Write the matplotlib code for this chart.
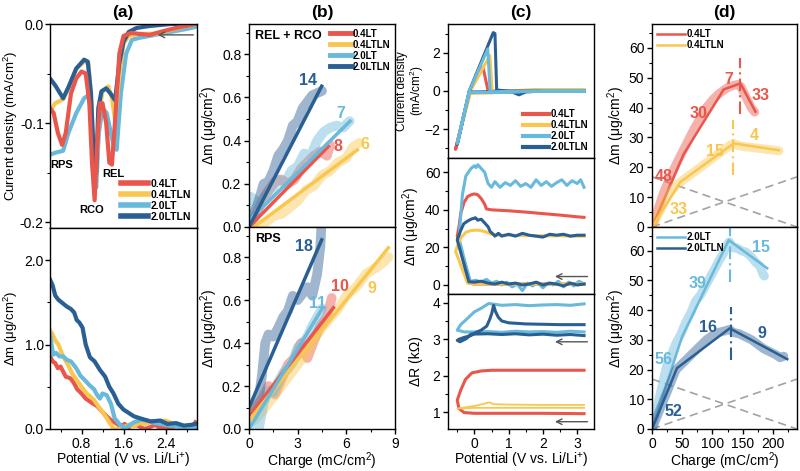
import matplotlib
matplotlib.use('Agg')
import matplotlib.pyplot as plt
from matplotlib.ticker import MultipleLocator

plt.rcParams['font.family'] = ['Liberation Sans', 'DejaVu Sans']
plt.rcParams['mathtext.fontset'] = 'custom'
plt.rcParams['mathtext.rm'] = 'Liberation Sans'
plt.rcParams['mathtext.default'] = 'regular'
plt.rcParams['font.size'] = 10

RED = '#E9564B'
YEL = '#F9C74F'
LBLUE = '#68B9DB'
DBLUE = '#2A5F94'
GREY = '#8c8c8c'
names = ['0.4LT', '0.4LTLN', '2.0LT', '2.0LTLN']

# ---- (a) top: current density during cathodic sweep
a_cv_v_lt04 = [0.2, 0.27, 0.35, 0.43, 0.5, 0.6, 0.7, 0.8, 0.88, 0.95, 1.0, 1.05, 1.1, 1.15, 1.2, 1.27,
               1.33, 1.38, 1.45, 1.52, 1.6, 1.75, 1.9, 2.1, 2.3, 2.6, 2.97]
a_cv_j_lt04 = [-0.085, -0.09, -0.11, -0.122, -0.11, -0.07, -0.055, -0.048, -0.05, -0.08, -0.14, -0.178,
               -0.12, -0.08, -0.08, -0.10, -0.14, -0.142, -0.09, -0.03, -0.012, -0.009, -0.010, -0.011,
               -0.008, -0.004, 0.0]
a_cv_v_lt04ln = [0.2, 0.3, 0.45, 0.55, 0.7, 0.85, 0.93, 0.98, 1.03, 1.08, 1.13, 1.2, 1.31, 1.38, 1.44,
                 1.52, 1.6, 1.7, 1.9, 2.2, 2.5, 2.8, 2.97]
a_cv_j_lt04ln = [-0.088, -0.08, -0.076, -0.065, -0.045, -0.038, -0.04, -0.07, -0.13, -0.15, -0.09, -0.068,
                 -0.063, -0.075, -0.097, -0.05, -0.02, -0.012, -0.01, -0.01, -0.006, -0.002, 0.0]
a_cv_v_lt20 = [0.2, 0.3, 0.45, 0.55, 0.7, 0.85, 0.93, 0.98, 1.03, 1.08, 1.13, 1.2, 1.28, 1.36, 1.42, 1.47,
               1.55, 1.65, 1.76, 1.9, 2.2, 2.5, 2.8, 2.97]
a_cv_j_lt20 = [-0.132, -0.13, -0.128, -0.11, -0.09, -0.075, -0.072, -0.09, -0.14, -0.165, -0.11, -0.085,
               -0.09, -0.11, -0.125, -0.127, -0.07, -0.03, -0.016, -0.014, -0.011, -0.008, -0.005, -0.003]
a_cv_v_lt20ln = [0.2, 0.3, 0.45, 0.55, 0.7, 0.85, 0.92, 0.98, 1.03, 1.08, 1.12, 1.18, 1.27, 1.35, 1.44,
                 1.52, 1.6, 1.7, 1.85, 2.1, 2.5, 2.97]
a_cv_j_lt20ln = [-0.055, -0.062, -0.075, -0.064, -0.045, -0.036, -0.038, -0.07, -0.13, -0.15, -0.085,
                 -0.068, -0.065, -0.07, -0.077, -0.04, -0.018, -0.008, -0.004, -0.002, 0.0, 0.0]

# ---- (a) bottom: mass change
a_m_v_lt04 = [0.2, 0.25, 0.3, 0.35, 0.4, 0.45, 0.5, 0.59, 0.65, 0.72, 0.8, 0.88, 0.95, 1.02, 1.1, 1.2, 1.28,
              1.35, 1.45, 1.55, 1.62, 1.7, 1.8, 1.9, 2.0, 2.1, 2.2, 2.3, 2.4, 2.5, 2.6, 2.7, 2.8, 2.9, 2.97]
a_m_lt04 = [0.86, 0.8, 0.78, 0.72, 0.74, 0.68, 0.62, 0.6, 0.55, 0.47, 0.42, 0.36, 0.33, 0.3, 0.27, 0.2, 0.15,
            0.11, 0.07, 0.03, 0.06, 0.02, 0.06, 0.03, 0.0, 0.02, 0.05, 0.01, 0.03, 0.0, 0.04, 0.01, 0.03,
            0.02, 0.08]
a_m_v_lt04ln = [0.2, 0.25, 0.3, 0.36, 0.45, 0.55, 0.63, 0.71, 0.8, 0.9, 1.03, 1.12, 1.2, 1.28, 1.35, 1.41,
                1.5, 1.6, 1.7, 1.8, 1.9, 2.0, 2.2, 2.4, 2.6, 2.8, 2.97]
a_m_lt04ln = [1.17, 1.12, 1.05, 1.0, 0.86, 0.75, 0.65, 0.58, 0.5, 0.42, 0.35, 0.27, 0.2, 0.13, 0.06, 0.0,
              0.0, 0.02, 0.05, 0.03, 0.07, 0.06, 0.09, 0.1, 0.05, 0.02, 0.03]
a_m_v_lt20 = [0.2, 0.23, 0.26, 0.32, 0.38, 0.45, 0.52, 0.6, 0.7, 0.78, 0.86, 0.95, 1.04, 1.1, 1.15, 1.2,
              1.28, 1.36, 1.43, 1.52, 1.62, 1.7, 1.8, 1.94, 2.05, 2.2, 2.4, 2.6, 2.8, 2.97]
a_m_lt20 = [1.12, 1.0, 0.88, 0.9, 0.86, 0.86, 0.82, 0.8, 0.72, 0.63, 0.58, 0.52, 0.47, 0.4, 0.36, 0.42,
            0.4, 0.3, 0.13, 0.06, 0.01, 0.04, 0.08, 0.11, 0.1, 0.07, 0.05, 0.03, 0.02, 0.01]
a_m_v_lt20ln = [0.2, 0.25, 0.3, 0.36, 0.42, 0.52, 0.6, 0.66, 0.71, 0.76, 0.82, 0.88, 0.96, 1.05, 1.15, 1.25,
                1.33, 1.41, 1.5, 1.6, 1.7, 1.8, 1.95, 2.12, 2.3, 2.44, 2.6, 2.75, 2.9, 2.97]
a_m_lt20ln = [1.77, 1.7, 1.58, 1.53, 1.5, 1.45, 1.42, 1.38, 1.29, 1.26, 1.2, 1.0, 0.85, 0.8, 0.7, 0.62,
              0.5, 0.42, 0.3, 0.23, 0.19, 0.15, 0.12, 0.09, 0.1, 0.06, 0.07, 0.04, 0.05, 0.06]

# ---- (b) mass vs charge, REL + RCO
b1_q_lt04 = [0.0, 0.4, 0.8, 1.2, 1.6, 2.0, 2.4, 2.8, 3.2, 3.6, 4.0, 4.4, 4.8, 5.0]
b1_m_lt04 = [0.0, 0.05, 0.12, 0.17, 0.21, 0.22, 0.20, 0.22, 0.27, 0.30, 0.33, 0.35, 0.33, 0.38]
b1_q_lt04ln = [0.6, 1.0, 1.5, 2.0, 2.5, 3.0, 3.5, 4.0, 4.5, 5.0, 5.5, 6.0, 6.4, 6.8]
b1_m_lt04ln = [0.0, 0.02, 0.05, 0.06, 0.09, 0.12, 0.17, 0.19, 0.24, 0.26, 0.30, 0.32, 0.37, 0.39]
b1_q_lt20 = [0.0, 0.1, 0.3, 0.6, 1.0, 1.4, 1.8, 2.2, 2.6, 3.0, 3.4, 3.8, 4.2, 4.6, 5.0, 5.4, 5.8, 6.2]
b1_m_lt20 = [0.05, 0.14, 0.13, 0.10, 0.14, 0.17, 0.22, 0.20, 0.26, 0.28, 0.34, 0.33, 0.40, 0.44, 0.46, 0.47,
             0.46, 0.49]
b1_q_lt20ln = [0.0, 0.3, 0.6, 0.9, 1.2, 1.5, 1.8, 2.1, 2.4, 2.7, 3.0, 3.3, 3.6, 3.9, 4.2, 4.5]
b1_m_lt20ln = [0.0, 0.06, 0.12, 0.20, 0.21, 0.26, 0.33, 0.36, 0.40, 0.47, 0.49, 0.55, 0.58, 0.61, 0.62, 0.63]
b1_fit_q = [[0.0, 4.89], [0.3, 6.68], [0.0, 6.23], [0.0, 4.48]]
b1_fit_m = [[0.0, 0.373], [0.0, 0.357], [0.03, 0.49], [0.0, 0.652]]
b1_slopes = ['8', '6', '7', '14']
b1_label_q = [5.5, 7.15, 5.65, 3.65]
b1_label_m = [0.375, 0.38, 0.525, 0.68]

# ---- (b) mass vs charge, RPS
b2_q_lt04 = [0.0, 0.4, 0.8, 1.2, 1.6, 2.0, 2.4, 2.8, 3.2, 3.6, 4.0, 4.4, 4.8, 5.1]
b2_m_lt04 = [0.06, 0.10, 0.14, 0.20, 0.16, 0.23, 0.30, 0.33, 0.40, 0.33, 0.41, 0.48, 0.52, 0.61]
b2_q_lt04ln = [0.3, 0.8, 1.5, 2.2, 3.0, 3.6, 4.2, 4.8, 5.4, 6.0, 6.6, 7.2, 7.8, 8.2, 8.6]
b2_m_lt04ln = [0.04, 0.08, 0.15, 0.22, 0.30, 0.36, 0.44, 0.50, 0.55, 0.62, 0.66, 0.72, 0.75, 0.77, 0.80]
b2_q_lt20 = [0.3, 0.6, 0.9, 1.2, 1.5, 1.8, 2.1, 2.4, 2.7, 3.0, 3.3, 3.6, 3.9, 4.2, 4.5]
b2_m_lt20 = [0.02, 0.0, 0.12, 0.18, 0.17, 0.22, 0.26, 0.28, 0.31, 0.38, 0.40, 0.43, 0.48, 0.52, 0.56]
b2_q_lt20ln = [0.3, 0.6, 0.8, 1.0, 1.2, 1.5, 1.8, 2.1, 2.4, 2.7, 3.0, 3.3, 3.6, 3.9, 4.2, 4.4, 4.5]
b2_m_lt20ln = [0.10, 0.14, 0.25, 0.40, 0.44, 0.43, 0.47, 0.52, 0.55, 0.62, 0.60, 0.63, 0.66, 0.62, 0.72,
               0.85, 1.0]
b2_fit_q = [[0.0, 5.2], [0.0, 8.59], [0.0, 4.54], [0.0, 4.48]]
b2_fit_m = [[0.06, 0.564], [0.04, 0.843], [0.0, 0.564], [0.1, 0.88]]
b2_slopes = ['10', '9', '11', '18']
b2_label_q = [5.6, 7.55, 4.25, 3.4]
b2_label_m = [0.665, 0.655, 0.585, 0.85]

# ---- (c) top: CV
c_cv_v_lt04 = [3.2, 2.0, 1.0, 0.4, -0.15, -0.55, -0.15, 0.25, 0.4, 1.0, 2.0, 3.2]
c_cv_j_lt04 = [0.0, 0.0, 0.0, -0.05, -0.1, -3.05, -0.05, 1.25, 0.0, 0.0, 0.0, 0.0]
c_cv_v_lt04ln = [3.2, 2.0, 1.0, 0.5, -0.12, -0.5, -0.12, 0.45, 0.52, 1.0, 2.0, 3.2]
c_cv_j_lt04ln = [0.05, 0.08, 0.0, -0.1, -0.12, -2.7, 0.0, 1.85, 0.0, 0.02, 0.05, 0.05]
c_cv_v_lt20 = [3.2, 2.0, 1.0, 0.4, -0.15, -0.5, -0.15, 0.39, 0.46, 1.0, 2.0, 3.2]
c_cv_j_lt20 = [0.0, 0.0, -0.05, -0.08, -0.08, -2.75, 0.0, 2.2, -0.05, -0.05, 0.0, 0.0]
c_cv_v_lt20ln = [3.2, 2.0, 1.5, 1.3, 1.1, 0.7, -0.15, -0.5, -0.15, 0.55, 0.6, 0.65, 1.0, 2.0, 3.2]
c_cv_j_lt20ln = [0.0, 0.0, -0.05, -0.2, -0.05, -0.05, -0.05, -2.8, 0.0, 3.05, 3.0, 0.05, 0.0, 0.0, 0.0]

# ---- (c) middle: mass change during CV
c_m_v_lt04 = [3.2, 2.0, 1.0, 0.0, -0.15, -0.5, -0.45, -0.4, -0.3, -0.2, -0.1, 0.0, 0.1, 0.2, 0.3, 0.35,
              0.5, 1.0, 1.5, 2.0, 2.5, 3.0, 3.2]
c_m_lt04 = [0.5, 0.5, 0.5, 0.5, 1.0, 26, 31, 38, 44, 47, 48, 48.5, 48, 46, 43, 40.5, 40, 39.5, 38.8, 38,
            37.2, 36.3, 36]
c_m_v_lt04ln = [3.2, 2.0, 1.0, 0.0, -0.2, -0.55, -0.4, -0.25, -0.1, 0.1, 0.3, 0.5, 0.7, 1.0, 1.5, 2.0,
                2.5, 3.0, 3.2]
c_m_lt04ln = [0.5, 0.5, 0.5, 0.5, 1.0, 18, 25, 28, 29, 29.2, 28.5, 27, 26.5, 26.5, 26.3, 26.2, 26.2,
              26.0, 26.0]
c_m_v_lt20 = [3.2, 3.05, 2.9, 2.75, 2.6, 2.45, 2.3, 2.15, 2.0, 1.85, 1.7, 1.55, 1.4, 1.25, 1.1, 0.95,
              0.8, 0.65, 0.5, 0.35, 0.2, 0.05, -0.12, -0.3, -0.45, -0.35, -0.25, -0.1, 0.0, 0.05, 0.1,
              0.2, 0.3, 0.4, 0.5, 0.6, 0.75, 0.9, 1.05, 1.2, 1.35, 1.5, 1.65, 1.8, 1.95, 2.1, 2.25,
              2.4, 2.55, 2.7, 2.85, 3.0, 3.1, 3.2]
c_m_lt20 = [0.5, 2.0, -0.5, 1.5, -1.0, 2.0, 0.0, 1.0, -1.5, 1.2, -0.5, 1.0, -3.0, 0.5, -1.0, 1.5,
            0.0, 2.0, 1.0, 3.0, 1.5, 2.5, 2.0, 14, 25, 48, 58, 62, 63.5, 62.5, 64, 62, 60, 54, 52,
            55, 52, 54.5, 53, 55.5, 52.5, 54, 52, 56, 53, 55, 52.5, 54.5, 56, 53, 55.5, 54, 56, 52]
c_m_v_lt20ln = [3.2, 3.0, 2.8, 2.6, 2.4, 2.2, 2.0, 1.8, 1.6, 1.4, 1.2, 1.0, 0.8, 0.6, 0.4, 0.2, 0.0,
                -0.16, -0.5, -0.4, -0.31, -0.2, -0.1, 0.0, 0.03, 0.1, 0.2, 0.3, 0.4, 0.46, 0.55, 0.6,
                0.7, 0.8, 1.0, 1.2, 1.4, 1.6, 1.8, 2.0, 2.2, 2.4, 2.6, 2.8, 3.0, 3.2]
c_m_lt20ln = [0.5, 0.0, 1.0, -0.5, 0.5, 1.0, 0.0, 1.5, 0.5, 0.0, 1.0, 0.5, 1.5, 0.5, 1.0, 2.0, 1.5,
              1.7, 24, 29, 32.6, 34, 35, 35.6, 35.8, 34.5, 35, 33, 31, 28.5, 27, 26, 27.5, 26, 27,
              26, 27.5, 26.5, 26, 25.5, 27, 26.5, 27, 26, 26.5, 26.5]

# ---- (c) bottom: resistance change during CV
c_r_v_lt04 = [3.2, 2.0, 1.0, 0.0, -0.3, -0.45, -0.5, -0.4, -0.26, -0.07, 0.2, 0.5, 1.0, 2.0, 3.2]
c_r_lt04 = [0.96, 0.97, 0.97, 0.97, 0.99, 1.1, 1.33, 1.6, 1.9, 2.08, 2.13, 2.15, 2.15, 2.15, 2.15]
c_r_v_lt04ln = [3.2, 2.0, 1.0, 0.0, -0.5, 0.0, 0.45, 0.55, 1.0, 2.0, 3.2]
c_r_lt04ln = [1.12, 1.12, 1.12, 1.12, 1.1, 1.17, 1.27, 1.22, 1.21, 1.2, 1.2]
c_r_v_lt20 = [3.2, 2.8, 2.4, 2.0, 1.6, 1.2, 0.8, 0.4, 0.0, -0.3, -0.5, -0.4, -0.26, 0.0, 0.2, 0.42,
              0.8, 1.2, 1.6, 2.0, 2.4, 2.8, 3.2]
c_r_lt20 = [3.2, 3.22, 3.19, 3.21, 3.2, 3.22, 3.19, 3.21, 3.2, 3.2, 3.25, 3.4, 3.52, 3.75, 3.85, 3.98,
            3.93, 3.95, 3.92, 3.94, 3.95, 3.93, 3.97]
c_r_v_lt20ln = [3.2, 2.8, 2.4, 2.0, 1.6, 1.2, 0.8, 0.4, -0.1, -0.23, -0.42, -0.5, -0.45, -0.3, -0.1,
                0.03, 0.2, 0.36, 0.45, 0.51, 0.56, 0.62, 0.7, 0.8, 1.0, 1.5, 2.0, 2.5, 3.2]
c_r_lt20ln = [3.1, 3.13, 3.11, 3.14, 3.12, 3.15, 3.13, 3.15, 3.14, 3.02, 2.93, 2.97, 3.0, 3.05, 3.1,
              3.18, 3.25, 3.36, 3.55, 3.72, 3.93, 3.75, 3.6, 3.5, 3.45, 3.42, 3.41, 3.4, 3.4]

# ---- (d) mass vs charge over full cycle
d_q_lt04 = [0, 10, 20, 30, 40, 50, 60, 70, 80, 90, 100, 110, 120, 128, 136, 142, 147, 152, 158, 164, 170]
d_m_lt04 = [0, 6, 12, 16.5, 21, 25, 29, 33, 36.5, 40, 42.5, 44.5, 46, 47, 47.5, 47.7, 47, 45, 42.5, 40,
            38.5]
d_fit_q_lt04 = [0, 52.4, 118.8, 146.4, 171.3]
d_fit_m_lt04 = [0, 24.4, 46.1, 48.1, 38.6]
d_q_lt04ln = [0, 10, 20, 30, 40, 50, 60, 70, 80, 90, 100, 110, 120, 130, 135, 140, 150, 160, 170, 180,
              190, 200, 210]
d_m_lt04ln = [0, 4, 8, 11.5, 14, 15.5, 17, 18.5, 20, 21.5, 23, 24.5, 26, 27.5, 28, 27.5, 27, 26.8, 26.5,
              26.3, 26, 25.8, 25.5]
d_fit_q_lt04ln = [0, 46.9, 135.3, 210]
d_fit_m_lt04ln = [0, 15.1, 28.0, 25.7]
d_q_lt20 = [0, 8, 16, 24, 32, 40, 48, 56, 64, 72, 80, 88, 96, 104, 112, 118, 124, 128, 134, 140, 148, 156,
            164, 172, 178, 184, 186]
d_m_lt20 = [0, 7, 14, 21, 25, 29, 32, 36, 39, 43, 45, 48, 51, 54, 57, 59, 62, 63, 61, 61, 60, 59.5, 58,
            56, 55, 52, 51.5]
d_fit_q_lt20 = [0, 49.8, 127, 190.7]
d_fit_m_lt20 = [0, 31.1, 63.6, 54.1]
d_q_lt20ln = [0, 10, 20, 30, 40, 50, 60, 70, 80, 90, 100, 110, 120, 128, 135, 145, 155, 165, 175, 185,
              195, 205, 212, 218]
d_m_lt20ln = [0, 5, 10, 15, 20, 22, 24, 26, 28, 30, 31.5, 32.5, 33, 33.5, 32.5, 32, 31, 30, 28.5, 27, 26,
              25, 24, 24.5]
d_fit_q_lt20ln = [0, 41.4, 128.7, 223.9]
d_fit_m_lt20ln = [0, 20.5, 33.9, 23.5]
d_guide_q = [0, 240]
d_guide_m = [0, 16.8]


def px_axes(fig, x0, y0, x1, y1):
    W, H = 800, 471
    return fig.add_axes([x0 / W, 1 - y1 / H, (x1 - x0) / W, (y1 - y0) / H])


def style(ax, xmaj, xmin, ymaj, ymin, show_x=True):
    ax.xaxis.set_major_locator(MultipleLocator(xmaj))
    ax.xaxis.set_minor_locator(MultipleLocator(xmin))
    ax.yaxis.set_major_locator(MultipleLocator(ymaj))
    ax.yaxis.set_minor_locator(MultipleLocator(ymin))
    ax.tick_params(which='major', direction='out', length=3.5, width=1, labelsize=10, pad=2)
    ax.tick_params(which='minor', direction='out', length=2, width=0.8)
    if not show_x:
        ax.tick_params(axis='x', which='both', bottom=False, labelbottom=False)
    for s in ax.spines.values():
        s.set_linewidth(1)


def ylab(ax, text, xpos, size=10, **kw):
    ax.set_ylabel(text, fontsize=size, **kw)
    ax.yaxis.set_label_coords(xpos, 0.5)


def arrow(ax, x0, x1, y):
    ax.annotate('', xy=(x1, y), xytext=(x0, y),
                arrowprops=dict(arrowstyle='->', color='#555555', lw=1, shrinkA=0, shrinkB=0))


colors = [RED, YEL, LBLUE, DBLUE]
fig = plt.figure(figsize=(8, 4.71), dpi=100)

# ================= (a)
ax = px_axes(fig, 50, 24, 197, 228)
cv_a = [(a_cv_v_lt04, a_cv_j_lt04), (a_cv_v_lt04ln, a_cv_j_lt04ln),
        (a_cv_v_lt20, a_cv_j_lt20), (a_cv_v_lt20ln, a_cv_j_lt20ln)]
for i in [2, 1, 3, 0]:
    ax.plot(cv_a[i][0], cv_a[i][1], color=colors[i], lw=3, solid_capstyle='round')
handles = [plt.Line2D([], [], color=c, lw=4) for c in colors]
ax.legend(handles, names, loc='lower right', frameon=False, prop=dict(weight='bold', size=7.5),
          handlelength=2.6, handletextpad=0.2, labelspacing=0.1, borderaxespad=0.2)
ax.text(0.43, -0.142, 'RPS', fontsize=8, fontweight='bold', ha='center', va='center')
ax.text(1.0, -0.188, 'RCO', fontsize=8, fontweight='bold', ha='center', va='center')
ax.text(1.4, -0.151, 'REL', fontsize=8, fontweight='bold', ha='center', va='center')
arrow(ax, 2.93, 2.25, -0.011)
ax.set_xlim(0.2, 3.0)
ax.set_ylim(-0.206, 0.0)
style(ax, 0.8, 0.4, 0.1, 0.05, show_x=False)
ax.tick_params(axis='y', which='major', pad=1)
ax.set_yticks([0.0, -0.1, -0.2])
ax.set_yticklabels(['0.0', '-0.1', '-0.2'])
ylab(ax, 'Current density (mA/cm$^2$)', -0.205, size=9.5)

ax = px_axes(fig, 50, 228, 197, 429)
m_a = [(a_m_v_lt04, a_m_lt04), (a_m_v_lt04ln, a_m_lt04ln), (a_m_v_lt20, a_m_lt20), (a_m_v_lt20ln, a_m_lt20ln)]
for i in [0, 1, 2, 3]:
    ax.plot(m_a[i][0], m_a[i][1], color=colors[i], lw=3)
ax.set_xlim(0.2, 3.0)
ax.set_ylim(0, 2.38)
style(ax, 0.8, 0.4, 1.0, 0.5)
ax.tick_params(axis='y', which='major', pad=1)
ax.set_xticks([0.8, 1.6, 2.4])
ax.set_yticks([0.0, 1.0, 2.0])
ax.set_yticklabels(['0.0', '1.0', '2.0'])
ax.set_xlabel('Potential (V vs. Li/Li$^{+}$)', labelpad=0)
ylab(ax, 'Δm (μg/cm$^2$)', -0.205, size=9.5)

# ================= (b)
b_sets = [
    ([(b1_q_lt04, b1_m_lt04), (b1_q_lt04ln, b1_m_lt04ln), (b1_q_lt20, b1_m_lt20), (b1_q_lt20ln, b1_m_lt20ln)],
     b1_fit_q, b1_fit_m, b1_slopes, b1_label_q, b1_label_m, 'REL + RCO', 24, 227),
    ([(b2_q_lt04, b2_m_lt04), (b2_q_lt04ln, b2_m_lt04ln), (b2_q_lt20, b2_m_lt20), (b2_q_lt20ln, b2_m_lt20ln)],
     b2_fit_q, b2_fit_m, b2_slopes, b2_label_q, b2_label_m, 'RPS', 227, 429),
]
for k, (raw, fq, fm, sl, lq, lm, tag, y0, y1) in enumerate(b_sets):
    ax = px_axes(fig, 249, y0, 395, y1)
    for i in range(4):
        ax.plot(raw[i][0], raw[i][1], color=colors[i], lw=7, alpha=0.45, solid_capstyle='round',
                solid_joinstyle='round')
    for i in range(4):
        ax.plot(fq[i], fm[i], color=colors[i], lw=2.5)
        ax.text(lq[i], lm[i], sl[i], color=colors[i], fontsize=11.5, fontweight='bold',
                ha='center', va='center')
    ax.text(0.04, 0.97, tag, transform=ax.transAxes, fontsize=9, fontweight='bold', va='top')
    ax.set_xlim(0, 9)
    ax.set_ylim(0, 0.94)
    style(ax, 3, 1.5, 0.2, 0.1, show_x=(k == 1))
    ylab(ax, 'Δm (μg/cm$^2$)', -0.2)
    if k == 0:
        handles = [plt.Line2D([], [], color=c, lw=3.5) for c in colors]
        ax.legend(handles, names, loc='upper right', frameon=False, prop=dict(weight='bold', size=7),
                  handlelength=2.2, handletextpad=0.1, labelspacing=0.1, borderaxespad=0.1)
    else:
        ax.set_xlabel('Charge (mC/cm$^2$)', labelpad=0)

# ================= (c)
ax = px_axes(fig, 448, 24, 594, 158)
cv_c = [(c_cv_v_lt04, c_cv_j_lt04), (c_cv_v_lt04ln, c_cv_j_lt04ln), (c_cv_v_lt20, c_cv_j_lt20),
        (c_cv_v_lt20ln, c_cv_j_lt20ln)]
for i in [0, 1, 3, 2]:
    ax.plot(cv_c[i][0], cv_c[i][1], color=colors[i], lw=2.2)
handles = [plt.Line2D([], [], color=c, lw=3) for c in colors]
ax.legend(handles, names, loc='lower right', frameon=False, prop=dict(weight='bold', size=7),
          handlelength=2.6, handletextpad=0.2, labelspacing=0.1, borderaxespad=0.2)
ax.set_xlim(-0.77, 3.49)
ax.set_ylim(-3.5, 3.5)
style(ax, 1, 0.5, 2, 1, show_x=False)
ylab(ax, 'Current density\n(mA/cm$^2$)', -0.15, size=8.5, linespacing=1.0)

ax = px_axes(fig, 448, 158, 594, 294)
m_c = [(c_m_v_lt04, c_m_lt04), (c_m_v_lt04ln, c_m_lt04ln), (c_m_v_lt20, c_m_lt20), (c_m_v_lt20ln, c_m_lt20ln)]
for i in [0, 2, 1, 3]:
    ax.plot(m_c[i][0], m_c[i][1], color=colors[i], lw=2.2)
arrow(ax, 3.3, 2.35, 4.5)
ax.set_xlim(-0.77, 3.49)
ax.set_ylim(-4.8, 67.6)
style(ax, 1, 0.5, 20, 10, show_x=False)
ylab(ax, 'Δm (μg/cm$^2$)', -0.18)

ax = px_axes(fig, 448, 294, 594, 429)
r_c = [(c_r_v_lt04, c_r_lt04), (c_r_v_lt04ln, c_r_lt04ln), (c_r_v_lt20, c_r_lt20), (c_r_v_lt20ln, c_r_lt20ln)]
widths = [2.2, 1.3, 2.2, 2.2]
for i in [0, 1, 2, 3]:
    ax.plot(r_c[i][0], r_c[i][1], color=colors[i], lw=widths[i])
arrow(ax, 3.3, 2.35, 2.93)
arrow(ax, 3.3, 2.35, 0.74)
ax.set_xlim(-0.77, 3.49)
ax.set_ylim(0.54, 4.24)
style(ax, 1, 0.5, 1, 0.5)
ax.set_xlabel('Potential (V vs. Li/Li$^{+}$)', labelpad=0)
ylab(ax, 'ΔR (kΩ)', -0.17)

# ================= (d)
d_sets = [
    [(d_q_lt04, d_m_lt04, d_fit_q_lt04, d_fit_m_lt04, 0), (d_q_lt04ln, d_m_lt04ln, d_fit_q_lt04ln, d_fit_m_lt04ln, 1)],
    [(d_q_lt20, d_m_lt20, d_fit_q_lt20, d_fit_m_lt20, 2), (d_q_lt20ln, d_m_lt20ln, d_fit_q_lt20ln, d_fit_m_lt20ln, 3)],
]
d_labels = [
    [(19, 17, '48', 0), (44, 5.8, '33', 1), (77, 38, '30', 0), (105, 25.4, '15', 1),
     (127, 49.5, '7', 0), (180, 44, '33', 0), (168.5, 30.5, '4', 1)],
    [(19, 23.3, '56', 2), (74.6, 49, '39', 2), (180, 61, '15', 2),
     (36, 6, '52', 3), (92, 34, '16', 3), (182, 32, '9', 3)],
]
d_vlines = [
    [(146.4, 38, 56.5, 0), (134.3, 17.3, 35.8, 1)],
    [(129.8, 49.6, 68, 2), (131.5, 23.3, 41.2, 3)],
]
for k, (y0, y1) in enumerate([(24, 227), (227, 429)]):
    ax = px_axes(fig, 652, y0, 797, y1)
    ax.plot(d_guide_q, d_guide_m, color=GREY, lw=1.2, ls=(0, (5, 3)), alpha=0.8)
    ax.plot(d_guide_q, d_guide_m[::-1], color=GREY, lw=1.2, ls=(0, (5, 3)), alpha=0.8)
    for q, m, fq, fm, i in d_sets[k]:
        ax.plot(q, m, color=colors[i], lw=6.5, alpha=0.45, solid_capstyle='round')
        ax.plot(fq, fm, color=colors[i], lw=1.8, label=names[i])
    for x, y0v, y1v, i in d_vlines[k]:
        ax.plot([x, x], [y0v, y1v], color=colors[i], lw=1.5, ls=(0, (6, 2, 1, 2)))
    for x, y, t, i in d_labels[k]:
        ax.text(x, y, t, color=colors[i], fontsize=11.5, fontweight='bold', ha='center', va='center')
    ax.legend(loc='upper left', frameon=False, prop=dict(weight='bold', size=7),
              handlelength=2.8, handletextpad=0.2, labelspacing=0.1, borderaxespad=0.15)
    ax.set_xlim(0, 240)
    ax.set_ylim(0, 68)
    style(ax, 50, 25, 10, 5, show_x=(k == 1))
    ylab(ax, 'Δm (μg/cm$^2$)', -0.17)
    if k == 1:
        ax.set_xlabel('Charge (mC/cm$^2$)', labelpad=0)

for x, t in [(123, '(a)'), (322, '(b)'), (521, '(c)'), (724, '(d)')]:
    fig.text(x / 800, 1 - 12 / 471, t, fontsize=12.5, fontweight='bold', ha='center', va='center')

fig.savefig('out.png', dpi=100)
